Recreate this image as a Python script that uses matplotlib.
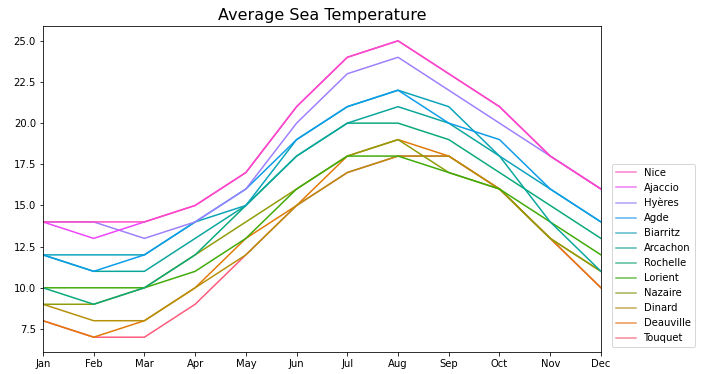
import numpy as np
import matplotlib
matplotlib.use("Agg")
import matplotlib.pyplot as plt
import seaborn as sns

months = ["Jan", "Feb", "Mar", "Apr", "May", "Jun",
          "Jul", "Aug", "Sep", "Oct", "Nov", "Dec"]

# legend order (top to bottom)
cities = ["Nice", "Ajaccio", "Hyères", "Agde", "Biarritz", "Arcachon",
          "Rochelle", "Lorient", "Nazaire", "Dinard", "Deauville", "Touquet"]

nice = [14, 14, 14, 15, 17, 21, 24, 25, 23, 21, 18, 16]
ajaccio = [14, 13, 14, 15, 17, 21, 24, 25, 23, 21, 18, 16]
hyeres = [14, 14, 13, 14, 16, 20, 23, 24, 22, 20, 18, 16]
agde = [12, 11, 12, 14, 16, 19, 21, 22, 20, 19, 16, 14]
biarritz = [12, 12, 12, 14, 15, 19, 21, 22, 21, 18, 16, 14]
arcachon = [12, 11, 11, 13, 15, 18, 20, 21, 20, 18, 14, 11]
rochelle = [10, 9, 10, 12, 15, 18, 20, 20, 19, 17, 15, 13]
lorient = [10, 10, 10, 11, 13, 16, 18, 18, 17, 16, 14, 12]
nazaire = [9, 9, 10, 12, 14, 16, 18, 19, 17, 16, 13, 11]
dinard = [9, 8, 8, 10, 12, 15, 17, 18, 18, 16, 13, 11]
deauville = [8, 7, 8, 10, 13, 15, 18, 19, 18, 16, 13, 10]
touquet = [8, 7, 7, 9, 12, 15, 17, 18, 18, 16, 13, 10]

temps = [nice, ajaccio, hyeres, agde, biarritz, arcachon,
         rochelle, lorient, nazaire, dinard, deauville, touquet]

# husl palette, first colour goes to the last city (lines are a bit more saturated)
palette = sns.husl_palette(len(cities), s=1.0, l=0.62)[::-1]
legend_palette = sns.husl_palette(len(cities))[::-1]

# notebook-style 72 dpi figure
fig = plt.figure(figsize=(709 / 72, 374 / 72), dpi=72)
ax = fig.add_axes([0.0606, 0.0588, 0.787, 0.8717])

x = np.arange(len(months))
lines = {}
# draw from the bottom of the legend up, so Nice ends on top
for i in range(len(cities) - 1, -1, -1):
    (ln,) = ax.plot(x, temps[i], color=palette[i], linewidth=1.5)
    lines[cities[i]] = ln

ax.set_xticks(x)
ax.set_xticklabels(months)
ax.set_xlim(0, len(months) - 1)
ax.set_title("Average Sea Temperature", fontsize=16)

leg = ax.legend([lines[c] for c in cities], cities,
                loc="lower left", bbox_to_anchor=(1.01, 0))
for h, c in zip(leg.legend_handles, legend_palette):
    h.set_color(c)
    h.set_alpha(0.85)

fig.savefig("out.png", dpi=72)
